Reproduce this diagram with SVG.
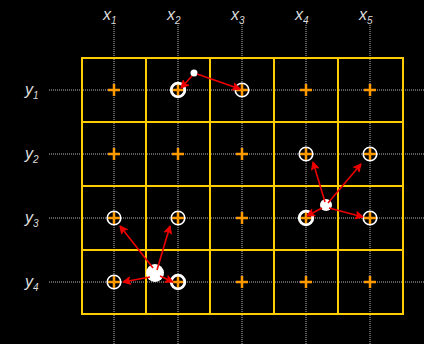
<svg xmlns="http://www.w3.org/2000/svg" width="424" height="344" viewBox="0 0 424 344">
<defs>
<style>
.dot{stroke:#bbb;stroke-width:1;stroke-dasharray:1 1;fill:none}
.grid{stroke:#ffcc00;stroke-width:2;fill:none}
.plus{stroke:#ff9900;stroke-width:2.5;fill:none}
.ring{stroke:#fff;stroke-width:1.6;fill:none}
.ringb{stroke:#fff;stroke-width:2.8;fill:none}
.pt{fill:#fff}
.arr{stroke:#ee0000;stroke-width:1.6;fill:none;marker-end:url(#ah)}
.lbl{font-family:"Liberation Sans",Arial,sans-serif;font-style:italic;font-size:16px;fill:#ddd}
.sub{font-size:10px}
</style>
<marker id="ah" viewBox="0 0 10 10" refX="9" refY="5" markerWidth="9" markerHeight="9" markerUnits="userSpaceOnUse" orient="auto">
<path d="M1,1 L9,5 L1,9 L3,5 Z" fill="#ee0000" stroke="#ee0000" stroke-width="1.2" stroke-linejoin="round"/>
</marker>
</defs>
<rect width="424" height="344" fill="#000"/>
<g id="guides">
<path class="dot" d="M114,25V344M178,25V344M242,25V344M306,25V344M370,25V344"/>
<path class="dot" d="M49,90H424M49,154H424M49,218H424M49,282H424"/>
</g>
<g id="labels">
<text class="lbl" x="103" y="20">x<tspan class="sub" dy="4">1</tspan></text>
<text class="lbl" x="167" y="20">x<tspan class="sub" dy="4">2</tspan></text>
<text class="lbl" x="231" y="20">x<tspan class="sub" dy="4">3</tspan></text>
<text class="lbl" x="295" y="20">x<tspan class="sub" dy="4">4</tspan></text>
<text class="lbl" x="359" y="20">x<tspan class="sub" dy="4">5</tspan></text>
<text class="lbl" x="25" y="95">y<tspan class="sub" dy="4">1</tspan></text>
<text class="lbl" x="25" y="159">y<tspan class="sub" dy="4">2</tspan></text>
<text class="lbl" x="25" y="223">y<tspan class="sub" dy="4">3</tspan></text>
<text class="lbl" x="25" y="287">y<tspan class="sub" dy="4">4</tspan></text>
</g>
<g id="grid">
<rect class="grid" x="82" y="58" width="321" height="256"/>
<path class="grid" d="M146,58V314M210,58V314M274,58V314M338,58V314M82,122H403M82,186H403M82,250H403"/>
</g>
<g id="plusses">
<path class="plus" d="M108,90h12M114,84v12M172,90h12M178,84v12M236,90h12M242,84v12M300,90h12M306,84v12M364,90h12M370,84v12
M108,154h12M114,148v12M172,154h12M178,148v12M236,154h12M242,148v12M300,154h12M306,148v12M364,154h12M370,148v12
M108,218h12M114,212v12M172,218h12M178,212v12M236,218h12M242,212v12M300,218h12M306,212v12M364,218h12M370,212v12
M108,282h12M114,276v12M172,282h12M178,276v12M236,282h12M242,276v12M300,282h12M306,276v12M364,282h12M370,276v12"/>
</g>
<g id="rings">
<circle class="ringb" cx="178" cy="90" r="6.8"/>
<circle class="ring" cx="242" cy="90" r="6.8"/>
<circle class="ring" cx="306" cy="154" r="6.8"/>
<circle class="ring" cx="370" cy="154" r="6.8"/>
<circle class="ringb" cx="306" cy="218" r="6.8"/>
<circle class="ring" cx="370" cy="218" r="6.8"/>
<circle class="ring" cx="114" cy="218" r="6.8"/>
<circle class="ring" cx="178" cy="218" r="6.8"/>
<circle class="ring" cx="114" cy="282" r="6.8"/>
<circle class="ringb" cx="178" cy="282" r="6.8"/>
</g>
<g id="points">
<circle class="pt" cx="194" cy="73" r="3.5"/>
<circle class="pt" cx="326" cy="205" r="6"/>
<circle class="pt" cx="155" cy="273" r="9"/>
</g>
<g id="connectors">
<path class="arr" d="M192,76L181,88"/>
<path class="arr" d="M197,74L240,89"/>
<path class="arr" d="M325,202L313,162"/>
<path class="arr" d="M322,208L307,216"/>
<path class="arr" d="M328,203L361,164"/>
<path class="arr" d="M329,208L363,217"/>
<path class="arr" d="M153,268L120,226"/>
<path class="arr" d="M157,270L170,226"/>
<path class="arr" d="M150,277L123,282"/>
<path class="arr" d="M160,276L173,282"/>
</g>
</svg>
